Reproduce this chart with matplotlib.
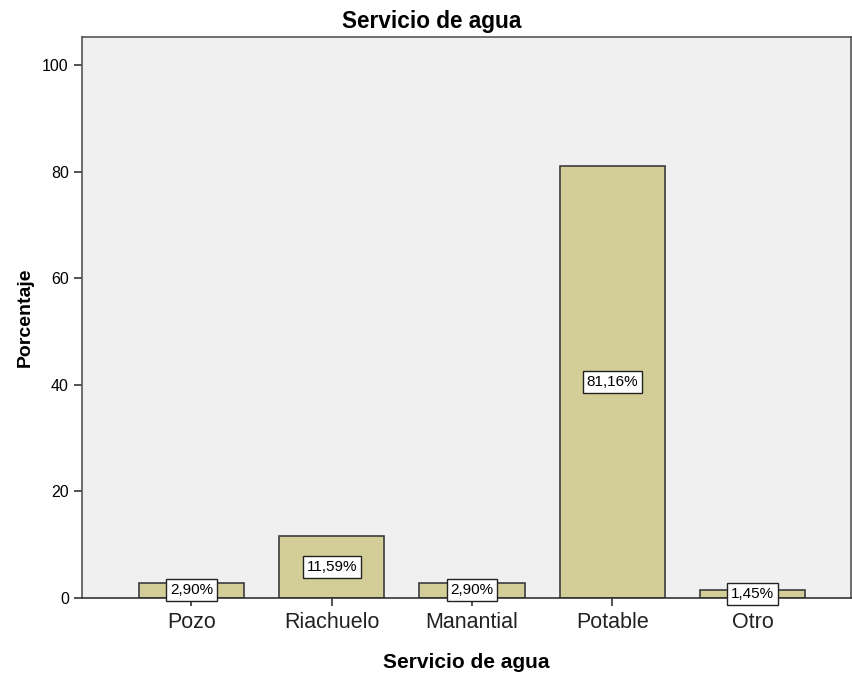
#!/usr/bin/env python
"""Bar chart of water service percentages (SPSS style)."""

import matplotlib

matplotlib.use("Agg")
import matplotlib.pyplot as plt

categories = ["Pozo", "Riachuelo", "Manantial", "Potable", "Otro"]
percentages = [2.90, 11.59, 2.90, 81.16, 1.45]
bar_labels = ["2,90%", "11,59%", "2,90%", "81,16%", "1,45%"]

plt.rcParams["font.family"] = ["Liberation Sans", "DejaVu Sans"]

fig = plt.figure(figsize=(8.52, 6.73), dpi=100)
ax = fig.add_axes([82 / 852, 75 / 673, 769 / 852, 561 / 673])
ax.set_facecolor("#F0F0F0")

positions = list(range(len(categories)))
ax.bar(positions, percentages, width=0.75, color="#D3CE97",
       edgecolor="#3C3C3C", linewidth=1.2, zorder=2)

for x, val, lab in zip(positions, percentages, bar_labels):
    ax.text(x, val / 2, lab, ha="center", va="center", fontsize=11, zorder=3,
            bbox=dict(boxstyle="square,pad=0.25", facecolor="white",
                      edgecolor="#222222", linewidth=1))

ax.set_xlim(-0.78, 4.70)
ax.set_ylim(0, 105.3)
ax.set_yticks([0, 20, 40, 60, 80, 100])
ax.set_xticks(positions)
ax.set_xticklabels(categories, fontsize=15.5, color="#222222")
ax.tick_params(axis="y", labelsize=11.5, length=6, width=1.2, color="#333333")
ax.tick_params(axis="x", length=6, width=1.2, color="#333333", pad=4)

for side in ("top", "left", "right"):
    ax.spines[side].set_color("#555555")
    ax.spines[side].set_linewidth(1.2)
ax.spines["bottom"].set_color("#333333")
ax.spines["bottom"].set_linewidth(1.2)

# the title sits centred on the whole figure, not on the plot area
fig.text(432 / 852, 1 - 28 / 673, "Servicio de agua", ha="center", va="baseline",
         fontsize=16.3, fontweight="bold")
ax.set_xlabel("Servicio de agua", fontsize=15, fontweight="bold", labelpad=14.5)
ax.set_ylabel("Porcentaje", fontsize=14, fontweight="bold", labelpad=6)

fig.savefig("out.png", dpi=100)
plt.close(fig)
